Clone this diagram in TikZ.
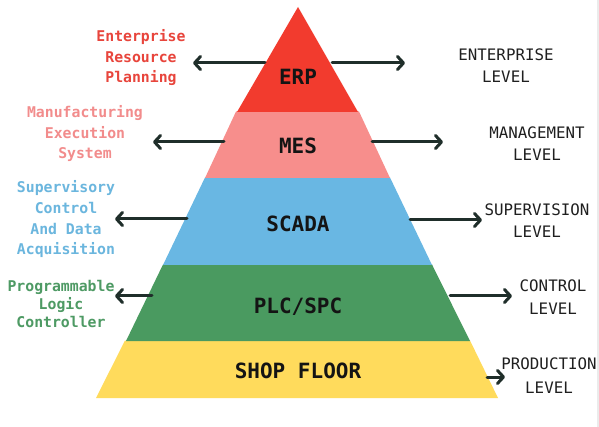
\documentclass[tikz,border=0pt]{standalone}
\usepackage{fontspec}
\setmonofont{DejaVu Sans Mono}
\usetikzlibrary{arrows.meta}
\definecolor{erpc}{HTML}{F23B2E}
\definecolor{mesc}{HTML}{F78E8C}
\definecolor{scadac}{HTML}{69B7E3}
\definecolor{plcc}{HTML}{4A9A60}
\definecolor{shopc}{HTML}{FFDB5C}
\definecolor{erpt}{HTML}{E8453C}
\definecolor{mest}{HTML}{F28C8C}
\definecolor{scadat}{HTML}{6BB6DE}
\definecolor{plct}{HTML}{4E9A64}
\definecolor{arrowc}{HTML}{1F2E2A}
\begin{document}
\begin{tikzpicture}[x=1pt,y=-1pt,
  lvl/.style={font=\ttfamily\bfseries\fontsize{21}{24}\selectfont, text=black!92, inner sep=0pt, anchor=base},
  lefttxt/.style={font=\ttfamily\bfseries\fontsize{14.8}{20.7}\selectfont, align=center, inner sep=0pt, anchor=base},
  righttxt/.style={font=\ttfamily\fontsize{15.8}{22}\selectfont, align=center, inner sep=0pt, anchor=base, text=black!88},
  arr/.style={draw=arrowc, line width=3pt, line cap=round, line join=round, -{Straight Barb[length=6pt,width=13pt,line cap=round,line join=round]}}]
\useasboundingbox (0,0) rectangle (599,427);
\fill[white] (0,0) rectangle (599,427);
\draw[black!8, line width=2pt] (597.5,0) -- (597.5,427);
% layers (bottom to top)
\fill[shopc] (125,340.5) -- (470,340.5) -- (498,398) -- (96,398) -- cycle;
\fill[plcc] (163,264.5) -- (432,264.5) -- (470,341) -- (126,341) -- cycle;
\fill[scadac] (205,177.5) -- (390,177.5) -- (432,265) -- (163,265) -- cycle;
\fill[mesc] (236,111.5) -- (359,111.5) -- (390,178) -- (205,178) -- cycle;
\fill[erpc] (298,7) -- (358,112) -- (237,112) -- cycle;
% layer labels
\node[lvl] (erp) at (298,85) {ERP};
\node[lvl] (mes) at (298,154) {MES};
\node[lvl] (scada) at (298,232) {SCADA};
\node[lvl] (plc) at (298,313) {PLC/SPC};
\node[lvl] (shop) at (298,378) {SHOP FLOOR};
% left labels (anchor = baseline of last line)
\node[lefttxt, text=erpt] (erpl) at (141,83) {Enterprise\\Resource\\Planning};
\node[lefttxt, text=mest] (mesl) at (85,159) {Manufacturing\\Execution\\System};
\node[lefttxt, text=scadat] (scadal) at (66,255) {Supervisory\\Control\\And Data\\Acquisition};
\node[lefttxt, text=plct, font=\ttfamily\bfseries\fontsize{14.8}{18}\selectfont] (plcl) at (61,327) {Programmable\\Logic\\Controller};
% right labels
\node[righttxt] (erpr) at (506,83) {ENTERPRISE\\LEVEL};
\node[righttxt] (mesr) at (537,161) {MANAGEMENT\\LEVEL};
\node[righttxt] (scadar) at (537,238) {SUPERVISION\\LEVEL};
\node[righttxt] (plcr) at (553,314) {CONTROL\\LEVEL};
\node[righttxt, font=\ttfamily\fontsize{15.8}{23.5}\selectfont] (shopr) at (549,393) {PRODUCTION\\LEVEL};
% arrow end points
\coordinate (a1s) at (265,63); \coordinate (a1e) at (193,63);
\coordinate (b1s) at (332,63); \coordinate (b1e) at (405,63);
\coordinate (a2s) at (224,142); \coordinate (a2e) at (153,142);
\coordinate (b2s) at (372,142); \coordinate (b2e) at (443,142);
\coordinate (a3s) at (187,219); \coordinate (a3e) at (115,219);
\coordinate (b3s) at (410,220); \coordinate (b3e) at (482,220);
\coordinate (a4s) at (152,296); \coordinate (a4e) at (115,296);
\coordinate (b4s) at (450,296); \coordinate (b4e) at (512,296);
\coordinate (b5s) at (487,377); \coordinate (b5e) at (505,377);
\draw[arr] (a1s) -- (a1e);
\draw[arr] (b1s) -- (b1e);
\draw[arr] (a2s) -- (a2e);
\draw[arr] (b2s) -- (b2e);
\draw[arr] (a3s) -- (a3e);
\draw[arr] (b3s) -- (b3e);
\draw[arr] (a4s) -- (a4e);
\draw[arr] (b4s) -- (b4e);
\draw[arr] (b5s) -- (b5e);
\end{tikzpicture}
\end{document}
